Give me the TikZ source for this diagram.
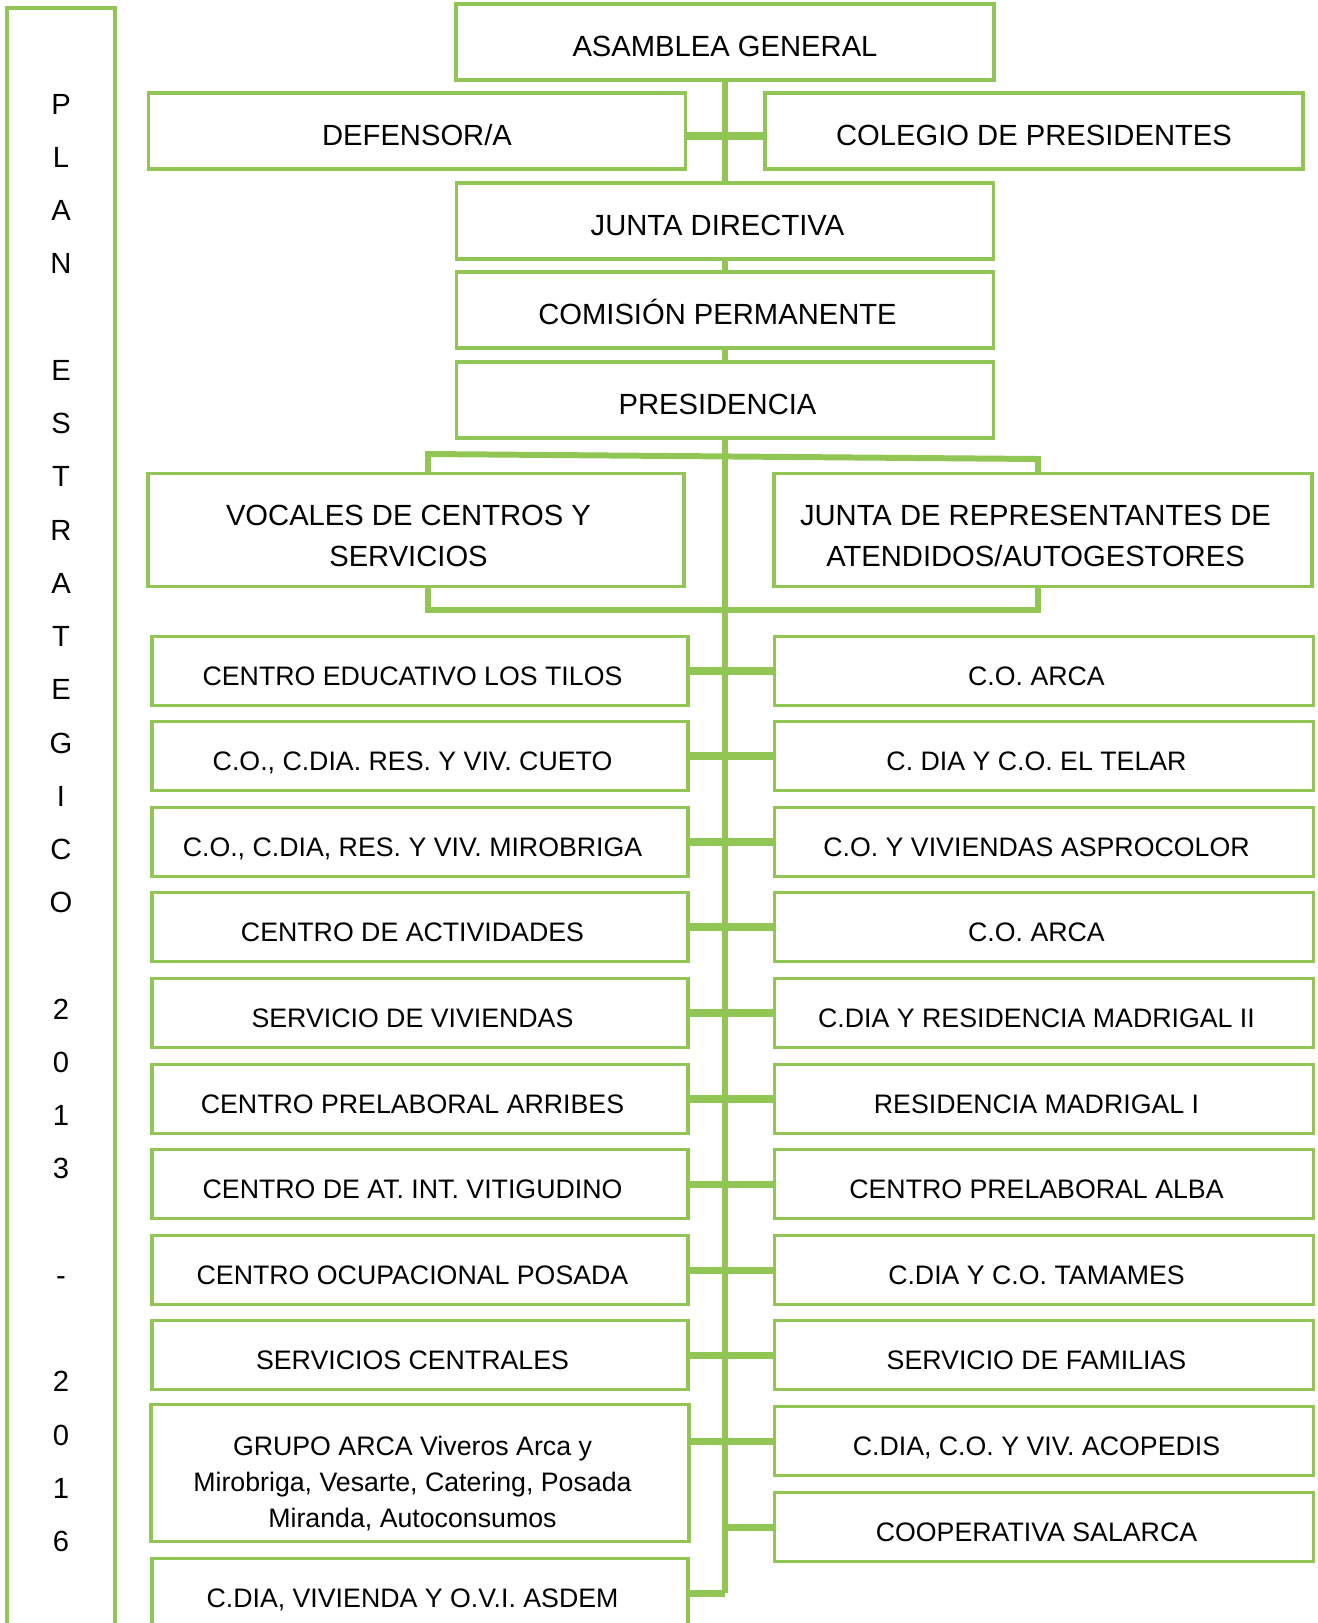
\documentclass[tikz,border=0pt]{standalone}
\usepackage{fontspec}
\setmainfont{Liberation Sans}
\usetikzlibrary{positioning,calc}

\definecolor{arcagreen}{RGB}{146,198,84}
\newcommand{\indr}{\hbox to 0.15cm{}}

\tikzset{
  orgbox/.style={draw=arcagreen, line width=1pt, inner sep=2pt, align=center,
                 font=\fontsize{8.3}{11.5}\selectfont},
  topbox/.style={orgbox, text height=0.85em, text depth=0pt, minimum height=0.76cm},
  rowfont/.style={font=\fontsize{7.6}{10.2}\selectfont},
  rowbox/.style={orgbox, rowfont, text height=0.85em, text depth=0pt,
                 minimum height=0.69cm, execute at end node={\indr}},
  link/.style={draw=arcagreen, line width=1.7pt},
  stub/.style={draw=arcagreen, line width=2pt}
}

\begin{document}
\begin{tikzpicture}[x=0.01cm, y=-0.01cm, outer sep=0pt]

\useasboundingbox (0,0) rectangle (1318,1623);
\clip (0,0) rectangle (1318,1623);

%\draw[step=100, gray!20, very thin] (0,0) grid (1318,1623);

% banner on the left
\draw[draw=arcagreen, line width=1pt] (7,1640) -- (7,8) -- (115,8) -- (115,1640);
\node [font=\fontsize{8.3}{15.14}\selectfont, align=center] (plan) at (61,823)
  {P\\L\\A\\N\\~\\E\\S\\T\\R\\A\\T\\E\\G\\I\\C\\O\\~\\2\\0\\1\\3\\~\\-\\~\\2\\0\\1\\6};

% governing bodies
\node [topbox, minimum width=5.38cm] (asamblea)    at (725,42)  {ASAMBLEA GENERAL};
\node [topbox, minimum width=5.37cm] (defensor)    at (417,131) {DEFENSOR/A};
\node [topbox, minimum width=5.38cm] (colegio)     at (1034,131) {COLEGIO DE PRESIDENTES};
\node [topbox, minimum width=5.37cm] (directiva)   at (725,221) {JUNTA DIRECTIVA\indr};
\node [topbox, minimum width=5.37cm] (comision)    at (725,310) {COMISIÓN PERMANENTE\indr};
\node [topbox, minimum width=5.37cm] (presidencia) at (725,400) {PRESIDENCIA\indr};

\node [orgbox, minimum width=5.36cm, minimum height=1.13cm] (vocales)        at (416,530)
  {\rule{0pt}{1.1em}VOCALES DE CENTROS Y\indr\\SERVICIOS\indr};
\node [orgbox, minimum width=5.38cm, minimum height=1.13cm] (representantes) at (1043,530)
  {\rule{0pt}{1.1em}JUNTA DE REPRESENTANTES DE\indr\\ATENDIDOS/AUTOGESTORES\indr};

% centres and services
\node [rowbox, minimum width=5.36cm] (tilos)      at (420,671)  {CENTRO EDUCATIVO LOS TILOS};
\node [rowbox, minimum width=5.36cm] (cueto)      at (420,756)  {C.O., C.DIA. RES. Y VIV. CUETO};
\node [rowbox, minimum width=5.36cm] (mirobriga)  at (420,842)  {C.O., C.DIA, RES. Y VIV. MIROBRIGA};
\node [rowbox, minimum width=5.36cm] (actividades) at (420,927) {CENTRO DE ACTIVIDADES};
\node [rowbox, minimum width=5.36cm] (viviendas)  at (420,1013) {SERVICIO DE VIVIENDAS};
\node [rowbox, minimum width=5.36cm] (arribes)    at (420,1099) {CENTRO PRELABORAL ARRIBES};
\node [rowbox, minimum width=5.36cm] (vitigudino) at (420,1184) {CENTRO DE AT. INT. VITIGUDINO};
\node [rowbox, minimum width=5.36cm] (posada)     at (420,1270) {CENTRO OCUPACIONAL POSADA};
\node [rowbox, minimum width=5.36cm] (centrales)  at (420,1355) {SERVICIOS CENTRALES};
\node [orgbox, rowfont, minimum width=5.38cm, minimum height=1.37cm] (grupo) at (420,1473)
  {\rule{0pt}{1.5em}GRUPO ARCA Viveros Arca y\indr\\Mirobriga, Vesarte, Catering, Posada\indr\\Miranda, Autoconsumos\indr};
\node [rowbox, minimum width=5.36cm] (asdem)      at (420,1593) {C.DIA, VIVIENDA Y O.V.I. ASDEM};

\node [rowbox, minimum width=5.39cm] (arca)       at (1044,671)  {C.O. ARCA};
\node [rowbox, minimum width=5.39cm] (telar)      at (1044,756)  {C. DIA Y C.O. EL TELAR};
\node [rowbox, minimum width=5.39cm] (asprocolor) at (1044,842)  {C.O. Y VIVIENDAS ASPROCOLOR};
\node [rowbox, minimum width=5.39cm] (arcab)      at (1044,927)  {C.O. ARCA};
\node [rowbox, minimum width=5.39cm] (madrigalii) at (1044,1013) {C.DIA Y RESIDENCIA MADRIGAL II};
\node [rowbox, minimum width=5.39cm] (madrigali)  at (1044,1099) {RESIDENCIA MADRIGAL I};
\node [rowbox, minimum width=5.39cm] (alba)       at (1044,1184) {CENTRO PRELABORAL ALBA};
\node [rowbox, minimum width=5.39cm] (tamames)    at (1044,1270) {C.DIA Y C.O. TAMAMES};
\node [rowbox, minimum width=5.39cm] (familias)   at (1044,1355) {SERVICIO DE FAMILIAS};
\node [rowbox, minimum width=5.39cm] (acopedis)   at (1044,1441) {C.DIA, C.O. Y VIV. ACOPEDIS};
\node [rowbox, minimum width=5.39cm] (salarca)    at (1044,1527) {COOPERATIVA SALARCA};

% trunk and brackets
\coordinate (trunkend) at (725,1593);
\coordinate (brtl) at (428,454);
\coordinate (brtr) at (1038,459);
\coordinate (brbl) at (428,610);
\coordinate (brbr) at (1038,610);

\draw[link] (asamblea.south) -- (directiva.north);
\draw[link] (directiva.south) -- (comision.north);
\draw[link] (comision.south) -- (presidencia.north);
\draw[link] (presidencia.south) -- (trunkend);

\draw[stub] ($(defensor.east)+(0,5)$) -- ($(colegio.west)+(0,5)$);

\draw[link] (brtl |- vocales.north) -- (brtl) -- (brtr) -- (brtr |- representantes.north);
\draw[link] (brbl |- vocales.south) -- (brbl) -- (brbr) -- (brbr |- representantes.south);

\draw[stub] (tilos.east) -- (arca.west);
\draw[stub] (cueto.east) -- (telar.west);
\draw[stub] (mirobriga.east) -- (asprocolor.west);
\draw[stub] (actividades.east) -- (arcab.west);
\draw[stub] (viviendas.east) -- (madrigalii.west);
\draw[stub] (arribes.east) -- (madrigali.west);
\draw[stub] (vitigudino.east) -- (alba.west);
\draw[stub] (posada.east) -- (tamames.west);
\draw[stub] (centrales.east) -- (familias.west);
\draw[stub] (acopedis.west -| grupo.east) -- (acopedis.west);
\draw[stub] (salarca.west -| trunkend) -- (salarca.west);
\draw[stub] (asdem.east) -- (trunkend);

\end{tikzpicture}
\end{document}
